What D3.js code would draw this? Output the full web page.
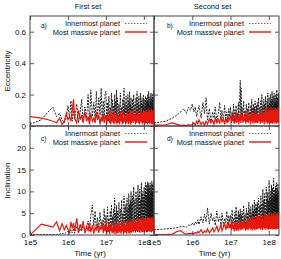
<!DOCTYPE html>
<html>
<head>
<meta charset="utf-8">
<script src="https://cdn.jsdelivr.net/npm/d3@7"></script>
<style>
  body { margin: 0; background: #fff; }
  svg { display: block; font-family: "Liberation Sans", Arial, sans-serif; }
</style>
</head>
<body>
<svg class="chart" width="281" height="259"></svg>
<script>
// output times in Myr (shared by every series)
const timeMyr = [
  0.1,0.2,0.3,0.4,0.5,0.6,0.7,0.8,0.9,
  1,1.1,1.2,1.3,1.4,1.5,1.7,1.9,2.1,2.3,2.5,2.8,3.1,3.4,3.7,4,4.4,4.8,5.2,5.6,6,6.5,7,7.5,8,8.5,9,9.5,
  10,10.5,11,11.5,12,12.5,13,13.5,14,14.5,15,15.5,16,16.5,17,17.5,18,18.5,19,19.5,
  20,21,22,23,24,25,26,27,28,29,30,31,32,33,34,35,36,37,38,39,40,41,42,43,44,45,46,47,48,49,
  50,52,54,56,58,60,62,64,66,68,70,72,74,76,78,80,82,84,86,88,90,92,94,96,98,100,102,104,106,108,110,112,114,116,
  118,120,122,124,126,128,130,132,134,136,138,140,142,144,146,148,150,152,154,156,158,160,162,164,166,168,170,172,174,176,178,180,182,184
];

// eccentricity, first set
const eccInner1 = [
  .01,.04,.09,.12,.06,.08,.04,.02,.05,
  .13,.05,.16,.03,.11,.04,.14,.02,.09,.17,.03,.12,.05,.2,.02,.23,.06,.15,.03,.22,.04,.18,.07,.24,.03,.16,.05,.2,
  .22,.04,.15,.06,.19,.03,.12,.05,.21,.04,.17,.07,.13,.03,.2,.05,.16,.04,.23,.06,
  .18,.04,.14,.06,.21,.05,.12,.03,.17,.07,.24,.04,.15,.06,.19,.05,.13,.08,.2,.04,.16,.06,.22,.05,.14,.07,.18,.04,.12,.06,
  .17,.05,.2,.07,.14,.04,.18,.06,.22,.05,.15,.08,.19,.04,.13,.07,.21,.06,.16,.05,.18,.08,.14,.04,.2,.07,.17,.05,.12,.06,
  .19,.08,.15,.05,.18,.07,.16,.04,.2,.06,.14,.08,.22,.05,.17,.07,.13,.04,.19,.06,.16,.05,.21,.08,.15,.04,.18,.07,.13,.05,
  .2,.06,.17,.04,.14,.08,.23,.06
];
const eccMassive1 = [
  .06,.05,.04,.03,.02,.05,.01,.03,.08,
  .04,.06,.03,.1,.17,.05,.02,.1,.04,.07,.02,.09,.03,.06,.01,.08,.03,.05,.02,.09,.04,.07,.01,.06,.03,.08,.02,.05,
  .07,.01,.09,.03,.06,.02,.1,.01,.05,.03,.08,.02,.06,.01,.09,.03,.07,.02,.05,.01,
  .08,.02,.06,.01,.09,.03,.07,.01,.1,.02,.05,.03,.08,.01,.06,.02,.09,.03,.07,.01,.08,.02,.06,.03,.1,.01,.07,.02,.09,.03,
  .08,.02,.1,.03,.07,.01,.09,.02,.06,.03,.1,.02,.08,.01,.07,.03,.09,.02,.11,.03,.07,.01,.08,.02,.1,.03,.06,.02,.09,.01,
  .08,.03,.1,.02,.07,.03,.09,.01,.08,.02,.11,.03,.07,.02,.09,.03,.1,.01,.08,.02,.09,.03,.07,.02,.11,.01,.08,.03,.1,.02,
  .09,.01,.07,.03,.1,.02,.08,.03
];

// eccentricity, second set
const eccInner2 = [
  .02,.03,.05,.07,.09,.11,.08,.12,.1,
  .14,.09,.12,.06,.1,.13,.05,.15,.08,.18,.04,.11,.02,.09,.05,.12,.03,.08,.15,.04,.1,.03,.13,.05,.09,.02,.11,.06,
  .12,.03,.09,.05,.14,.02,.1,.06,.13,.04,.08,.05,.15,.03,.11,.2,.29,.08,.24,.04,
  .12,.04,.16,.05,.1,.03,.14,.06,.11,.04,.15,.05,.09,.03,.13,.06,.17,.04,.11,.05,.14,.03,.12,.06,.16,.04,.1,.05,.13,.03,
  .15,.05,.18,.06,.12,.04,.16,.07,.2,.05,.13,.06,.17,.04,.14,.08,.19,.05,.12,.06,.16,.04,.21,.07,.13,.05,.18,.06,.15,.04,
  .2,.07,.14,.05,.17,.06,.22,.04,.16,.07,.19,.05,.13,.06,.21,.08,.15,.04,.18,.06,.14,.07,.2,.05,.16,.04,.23,.06,.13,.05,
  .18,.07,.15,.04,.21,.06,.17,.08
];
const eccMassive2 = [
  .005,.008,.02,.01,.004,.006,.003,.008,.005,
  .01,.02,.008,.03,.015,.04,.01,.025,.005,.03,.012,.045,.02,.035,.01,.05,.02,.04,.015,.06,.025,.045,.01,.055,.02,.065,.03,.05,
  .07,.02,.05,.03,.08,.015,.06,.025,.09,.02,.05,.03,.07,.01,.06,.03,.08,.02,.055,.035,
  .08,.02,.06,.03,.09,.015,.07,.025,.1,.02,.06,.035,.08,.01,.07,.03,.09,.02,.065,.03,.085,.015,.07,.025,.1,.02,.06,.03,.08,.02,
  .09,.02,.07,.03,.1,.015,.08,.025,.11,.02,.07,.03,.09,.01,.08,.03,.1,.02,.12,.03,.08,.015,.09,.025,.11,.02,.07,.03,.1,.015,
  .09,.03,.12,.02,.08,.025,.1,.015,.09,.03,.11,.02,.08,.03,.1,.02,.09,.015,.12,.025,.08,.03,.1,.02,.11,.015,.09,.03,.07,.02,
  .1,.025,.12,.02,.09,.03,.11,.02
];

// inclination, first set
const incInner1 = [
  .1,.1,.1,.1,.1,.2,.4,.2,.6,
  .8,.3,1.2,.5,1.5,.4,2,.6,1.4,.8,2.5,.7,1.8,3.2,1,4.5,6.9,2,5.5,1.2,4,1.5,5.2,2,3.5,1.2,6,1.8,
  4.5,1.2,6.5,2,3.8,1,5.5,1.5,7,2.2,4.2,1.3,6,1.8,8.5,2,5,1.4,6.8,2.5,
  5.5,1.5,7.5,2.2,6,1.8,8,2.5,5,1.6,9,2,6.5,2.8,7.2,1.9,8.5,2.4,6,2,9.5,2.6,7,1.8,8,2.2,10,3,7.5,2.4,
  9,2.5,11,3,8,2.2,10,3.2,8.5,2.6,11.5,3,9,2.4,10.5,3.5,8,2.8,12,3,9.5,2.6,10,3.3,8.8,2.5,11,3.4,9.2,2.9,
  12,3.1,10,2.7,11.5,3.6,9,3,12.2,3.2,10.5,2.8,11.8,3.5,9.5,3.3,11,2.9,12,3.4,9.8,3,11.4,3.6,10.2,2.8,12.3,3.2,10,3.5,
  11.6,3.1,9.6,3.4,12,3,10.8,3.3
];
const incMassive1 = [
  0,2.5,2.1,1.8,3,1,2.6,1.2,2.2,
  1.3,.6,3,1.5,2.8,.9,3.8,.5,2.5,1.2,3.2,.4,2,1,2.8,.6,2.2,.3,1.8,1,2.6,.5,1.9,1.2,3,.4,2.1,.8,
  2.5,.3,1.8,.7,3,.2,2.2,.9,2.8,.4,1.6,.6,2.9,.3,2,.8,3.1,.2,2.4,.5,
  2.7,.4,3.2,.6,2.1,.3,3,.8,2.5,.2,3.4,.5,2.3,.7,3.1,.3,2.6,.9,3.5,.4,2.2,.6,3,.3,2.8,.7,3.6,.5,2.4,.8,
  3.2,.6,3.8,.9,2.8,.5,3.5,1,3,.7,4,.8,3.3,.6,3.7,1.1,2.9,.5,3.9,.9,3.4,.7,4.1,1,3,.6,3.6,.9,3.2,1.2,
  4,.8,3.5,.6,3.8,1,3.1,.7,4.2,1.1,3.4,.8,3.9,1,3.3,.9,3.7,.7,4.1,1.2,3.2,.8,3.8,1,3.5,.6,4,1.1,3.3,.9,
  3.9,1,3.6,.8,4.2,1.2,3.4,.9
];

// inclination, second set
const incInner2 = [
  1.2,1.4,1.5,1.7,1.9,2,1.8,2.3,2.1,
  2.8,2.2,3,2.5,3.5,2.4,4.2,2.8,4.8,3,6.2,2.5,5,3.2,4,2.2,5.5,3,4.2,2.4,5,2.1,3.8,2.8,5.4,2.3,4.5,3,
  4.5,2,5.8,2.6,3.9,1.8,5.2,2.4,6.5,2.1,4.3,2.8,5.6,1.9,4.8,2.5,6,2.2,4.6,2.7,
  5.5,2.3,6.8,2.6,4.8,2,6.2,2.9,5.2,2.2,7.5,2.5,5.8,2.1,6.5,2.8,5,2.3,7,2.6,5.6,2.2,8,2.9,6,2.4,7.2,2.7,6.4,2.5,
  7.5,2.8,8.5,3,6.8,2.6,9,3.2,7.2,2.9,10.5,3.1,8,2.7,9.5,3.3,7.4,3,11,3.2,8.2,2.8,9.8,3.5,7.8,3,12.5,3.4,8.6,2.9,
  10,3.3,8,3.1,11.5,3.6,9,3,10.8,3.4,8.4,3.2,13,3.5,9.2,3.3,10.4,3,8.8,3.6,11.2,3.2,9.4,3.4,12,3.1,8.6,3.5,10.6,3.3,
  9,3.6,11.8,3.2,9.6,3.4,10.2,3.5
];
const incMassive2 = [
  .1,.1,.2,.8,1,.4,.2,.3,.3,
  .4,.3,.6,.4,.8,.5,1.2,.4,.9,.6,1.4,.5,1,1.6,.7,1.2,2,.8,1.5,2.5,1,1.8,2.8,1.2,2.2,1.5,3,1.6,
  2.5,1,3.2,1.4,2.2,.8,3,1.2,2.6,.9,3.4,1.3,2.4,1,3.1,1.5,2.8,1.1,3.5,1.4,
  3,1.2,3.8,1.5,2.6,1,3.4,1.3,4,1.1,2.9,1.6,3.6,1.2,4.2,1.4,3.1,1,3.9,1.5,2.8,1.3,4.1,1.1,3.3,1.6,3.7,1.2,4.3,1.4,
  3.5,1.3,4.4,1.6,3.2,1.2,4.8,1.5,3.6,1.1,4.2,1.7,3.4,1.3,5,1.6,3.8,1.2,4.5,1.8,3.3,1.4,4.7,1.5,3.9,1.2,5.2,1.7,3.6,1.4,
  4.3,1.6,3.5,1.3,4.9,1.8,3.7,1.5,4.4,1.2,5.1,1.7,3.8,1.4,4.6,1.6,4,1.3,5.3,1.8,3.9,1.5,4.8,1.2,4.2,1.7,5,1.4,3.7,1.6,
  4.5,1.3,5.2,1.8,4.1,1.5,4.7,1.6
];

const setTitles = ["First set", "Second set"];
const seriesNames = ["Innermost planet", "Most massive planet"];
const xTicks = [1e5, 1e6, 1e7, 1e8];
const xTickLabels = ["1e5", "1e6", "1e7", "1e8"];
const eccTicks = [0, 0.2, 0.4, 0.6];
const incTicks = [0, 5, 10, 15, 20];

/** layout **/
const cols = [{x0: 30, x1: 154}, {x0: 154, x1: 279}];
const rows = [
  {y0: 16, y1: 126, max: 0.7, ticks: eccTicks, fmt: d => d === 0 ? "0" : d3.format(".1f")(d), name: "Eccentricity", labDy: 11.5},
  {y0: 126, y1: 235, max: 25, ticks: incTicks, fmt: d => String(d), name: "Inclination", labDy: 14.5}
];
const panels = [
  {c: 0, r: 0, label: "a)", inner: eccInner1, massive: eccMassive1},
  {c: 1, r: 0, label: "b)", inner: eccInner2, massive: eccMassive2},
  {c: 0, r: 1, label: "c)", inner: incInner1, massive: incMassive1},
  {c: 1, r: 1, label: "d)", inner: incInner2, massive: incMassive2}
];
const red = "#e6180e";

const svg = d3.select(".chart");
svg.append("rect").attr("width", 281).attr("height", 259).attr("fill", "#fff");

panels.forEach((p, i) => {
  const col = cols[p.c], row = rows[p.r];
  const x = d3.scaleLog().domain([1e5, 1.85e8]).range([col.x0, col.x1]);
  const y = d3.scaleLinear().domain([0, row.max]).range([row.y1, row.y0]);
  const g = svg.append("g");

  g.append("clipPath").attr("id", "clip" + i)
    .append("rect")
    .attr("x", col.x0).attr("y", row.y0)
    .attr("width", col.x1 - col.x0).attr("height", row.y1 - row.y0);

  const line = d3.line()
    .x(d => x(d[0] * 1e6))
    .y(d => y(d[1]));

  const plot = g.append("g").attr("clip-path", "url(#clip" + i + ")");
  plot.append("path")
    .datum(d3.zip(timeMyr, p.inner))
    .attr("fill", "none")
    .attr("stroke", "#111")
    .attr("stroke-width", 0.9)
    .attr("stroke-dasharray", "2,1.2")
    .attr("d", line);
  plot.append("path")
    .datum(d3.zip(timeMyr, p.massive))
    .attr("fill", "none")
    .attr("stroke", red)
    .attr("stroke-width", 1.2)
    .attr("d", line);

  // axes, ticks pointing inward
  const bottom = g.append("g").attr("transform", "translate(0," + row.y1 + ")")
    .call(d3.axisBottom(x).tickValues(xTicks).tickSize(-4).tickPadding(4.5)
      .tickFormat((d, k) => p.r === 1 ? xTickLabels[k] : ""));
  const top = g.append("g").attr("transform", "translate(0," + row.y0 + ")")
    .call(d3.axisTop(x).tickValues(xTicks).tickSize(-4).tickFormat(""));
  const left = g.append("g").attr("transform", "translate(" + col.x0 + ",0)")
    .call(d3.axisLeft(y).tickValues(row.ticks).tickSize(-4).tickPadding(4)
      .tickFormat(d => p.c === 0 ? row.fmt(d) : ""));
  const right = g.append("g").attr("transform", "translate(" + col.x1 + ",0)")
    .call(d3.axisRight(y).tickValues(row.ticks).tickSize(-4).tickFormat(""));
  [bottom, top, left, right].forEach(a => {
    a.select(".domain").remove();
    a.selectAll("line").attr("stroke", "#333").attr("stroke-width", 0.8);
    a.selectAll("text").attr("fill", "#111").style("font-size", "8px")
      .style("font-family", '"Liberation Sans", Arial, sans-serif');
  });

  g.append("rect")
    .attr("x", col.x0).attr("y", row.y0)
    .attr("width", col.x1 - col.x0).attr("height", row.y1 - row.y0)
    .attr("fill", "none").attr("stroke", "#444").attr("stroke-width", 1);

  // legend
  const lx = col.x0 + 90;
  [0, 1].forEach(k => {
    const ly = row.y0 + 7.5 + k * 8.5;
    g.append("text").attr("x", lx).attr("y", ly + 2.6)
      .attr("text-anchor", "end").attr("font-size", 7.4).attr("fill", "#111")
      .text(seriesNames[k]);
    g.append("line")
      .attr("x1", lx + 5).attr("x2", lx + 27).attr("y1", ly).attr("y2", ly)
      .attr("stroke", k === 0 ? "#333" : red)
      .attr("stroke-width", k === 0 ? 0.7 : 1.4)
      .attr("stroke-dasharray", k === 0 ? "1.5,1.5" : null);
  });

  g.append("text").attr("x", col.x0 + (p.c === 0 ? 11 : 13)).attr("y", row.y0 + row.labDy)
    .attr("font-size", 6.5).attr("fill", "#111").text(p.label);
});

// set titles
cols.forEach((col, c) => {
  svg.append("text")
    .attr("x", (col.x0 + col.x1) / 2 - 4).attr("y", 8.5)
    .attr("text-anchor", "middle").attr("font-size", 7.5).attr("fill", "#111")
    .text(setTitles[c]);
  svg.append("text")
    .attr("x", (col.x0 + col.x1) / 2 - 2).attr("y", 256)
    .attr("text-anchor", "middle").attr("font-size", 8).attr("fill", "#111")
    .text("Time (yr)");
});

// y axis titles
rows.forEach(row => {
  svg.append("text")
    .attr("transform", "translate(10," + ((row.y0 + row.y1) / 2) + ") rotate(-90)")
    .attr("text-anchor", "middle").attr("font-size", 8).attr("fill", "#111")
    .text(row.name);
});
</script>
</body>
</html>
